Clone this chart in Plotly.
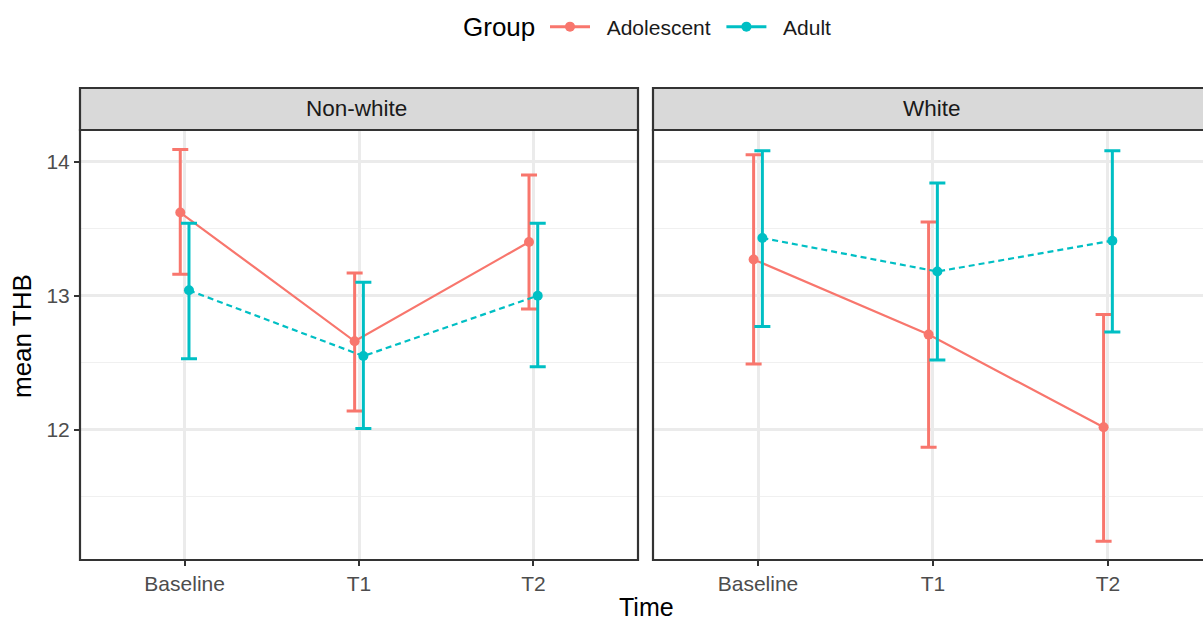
import plotly.graph_objects as go

# ---- data ----
times = ["Baseline", "T1", "T2"]
panels = ["Non-white", "White"]
groups = ["Adolescent", "Adult"]

# Non-white
nw_adol_mean = [13.62, 12.66, 13.40]
nw_adol_hi = [14.09, 13.17, 13.90]
nw_adol_lo = [13.16, 12.14, 12.90]
nw_adult_mean = [13.04, 12.55, 13.00]
nw_adult_hi = [13.54, 13.10, 13.54]
nw_adult_lo = [12.53, 12.01, 12.47]

# White
w_adol_mean = [13.27, 12.71, 12.02]
w_adol_hi = [14.05, 13.55, 12.86]
w_adol_lo = [12.49, 11.87, 11.17]
w_adult_mean = [13.43, 13.18, 13.41]
w_adult_hi = [14.08, 13.84, 14.08]
w_adult_lo = [12.77, 12.52, 12.73]

colors = {"Adolescent": "#F8766D", "Adult": "#00BFC4"}
dashes = {"Adolescent": "solid", "Adult": "6px,4px"}
dodge = {"Adolescent": -0.025, "Adult": 0.025}

data = {
    ("Non-white", "Adolescent"): (nw_adol_mean, nw_adol_lo, nw_adol_hi),
    ("Non-white", "Adult"): (nw_adult_mean, nw_adult_lo, nw_adult_hi),
    ("White", "Adolescent"): (w_adol_mean, w_adol_lo, w_adol_hi),
    ("White", "Adult"): (w_adult_mean, w_adult_lo, w_adult_hi),
}

W, H = 1203, 621
def px_x(p): return p / W
def px_y(p): return (H - p) / H

FONT = "Liberation Sans, Arial"
fig = go.Figure()
xpos = [1, 2, 3]
for pi, panel in enumerate(panels):
    xa = "x" if pi == 0 else "x2"
    ya = "y" if pi == 0 else "y2"
    for g in groups:
        m, lo, hi = data[(panel, g)]
        fig.add_trace(go.Scatter(
            x=[v + dodge[g] for v in xpos], y=m, xaxis=xa, yaxis=ya,
            mode="lines+markers", showlegend=False, name=g,
            line=dict(color=colors[g], width=2.2, dash=dashes[g]),
            marker=dict(color=colors[g], size=10),
            error_y=dict(type="data", symmetric=False,
                         array=[h - a for h, a in zip(hi, m)],
                         arrayminus=[a - l for a, l in zip(m, lo)],
                         color=colors[g], thickness=3, width=8),
        ))

# legend entries (solid lines as in reference)
for g in groups:
    fig.add_trace(go.Scatter(
        x=[None], y=[None], mode="lines+markers", name="\u00a0\u00a0" + g + "\u00a0",
        line=dict(color=colors[g], width=3),
        marker=dict(color=colors[g], size=10),
    ))

tickfont = dict(family=FONT, size=21, color="#4D4D4D")
grid = "#EBEBEB"
yrange = [11.03, 14.235]

common_x = dict(tickvals=xpos, ticktext=times, tickfont=tickfont,
                showgrid=True, gridcolor=grid, gridwidth=2.5,
                ticks="outside", ticklen=5, tickwidth=2, tickcolor="#333333",
                zeroline=False, showline=False, fixedrange=True)
common_y = dict(range=yrange, showgrid=True, gridcolor=grid, gridwidth=2.5,
                zeroline=False, showline=False, tickvals=[12, 13, 14],
                minor=dict(dtick=0.5, tick0=11.5, showgrid=True,
                           gridcolor="#F0F0F0", gridwidth=1.3, ticks=""))

fig.update_layout(
    width=W, height=H,
    margin=dict(l=0, r=0, t=0, b=0),
    paper_bgcolor="white", plot_bgcolor="white",
    font=dict(family=FONT, color="#1A1A1A"),
    xaxis=dict(domain=[px_x(80), px_x(638)], range=[0.4, 3.6], anchor="y", **common_x),
    xaxis2=dict(domain=[px_x(653), 1.0], range=[0.4, 3.543], anchor="y2", **common_x),
    yaxis=dict(domain=[px_y(560), px_y(130)], anchor="x", tickfont=tickfont,
               ticks="outside", ticklen=5, tickwidth=2, tickcolor="#333333", **common_y),
    yaxis2=dict(domain=[px_y(560), px_y(130)], anchor="x2", showticklabels=False,
                ticks="", **common_y),
    legend=dict(orientation="h", x=px_x(545), xanchor="left", y=px_y(27), yanchor="middle",
                font=dict(family=FONT, size=21, color="#1A1A1A"),
                itemwidth=40, bgcolor="rgba(0,0,0,0)"),
)

shapes = []
border = dict(color="#333333", width=2.2)
# left panel strip + border
shapes.append(dict(type="rect", xref="paper", yref="paper",
                   x0=px_x(80), x1=px_x(638), y0=px_y(130), y1=px_y(88),
                   fillcolor="#D9D9D9", line=border, layer="below"))
shapes.append(dict(type="rect", xref="paper", yref="paper",
                   x0=px_x(80), x1=px_x(638), y0=px_y(560), y1=px_y(130),
                   fillcolor="rgba(0,0,0,0)", line=border, layer="above"))
# right panel strip + border (clipped at right edge)
shapes.append(dict(type="rect", xref="paper", yref="paper",
                   x0=px_x(653), x1=px_x(1215), y0=px_y(130), y1=px_y(88),
                   fillcolor="#D9D9D9", line=border, layer="below"))
shapes.append(dict(type="rect", xref="paper", yref="paper",
                   x0=px_x(653), x1=px_x(1215), y0=px_y(560), y1=px_y(130),
                   fillcolor="rgba(0,0,0,0)", line=border, layer="above"))
fig.update_layout(shapes=shapes)

annots = [
    dict(text="Group", x=px_x(461), y=px_y(27), xref="paper", yref="paper",
         showarrow=False, font=dict(size=26, color="black"), xanchor="left", yanchor="middle"),
    dict(text="Non-white", x=px_x(356), y=px_y(108), xref="paper", yref="paper",
         showarrow=False, font=dict(size=22.5, color="#1A1A1A"), xanchor="center", yanchor="middle"),
    dict(text="White", x=px_x(932), y=px_y(108), xref="paper", yref="paper",
         showarrow=False, font=dict(size=22.5, color="#1A1A1A"), xanchor="center", yanchor="middle"),
    dict(text="Time", x=px_x(646), y=px_y(607), xref="paper", yref="paper",
         showarrow=False, font=dict(size=25, color="black"), xanchor="center", yanchor="middle"),
    dict(text="mean THB", x=px_x(22), y=px_y(336), xref="paper", yref="paper",
         showarrow=False, textangle=-90, font=dict(size=26, color="black"),
         xanchor="center", yanchor="middle"),
]
fig.update_layout(annotations=annots)

fig.write_html("out.html", config={"displayModeBar": False},
               post_script="document.body.style.margin='0';document.body.style.overflow='hidden';")
